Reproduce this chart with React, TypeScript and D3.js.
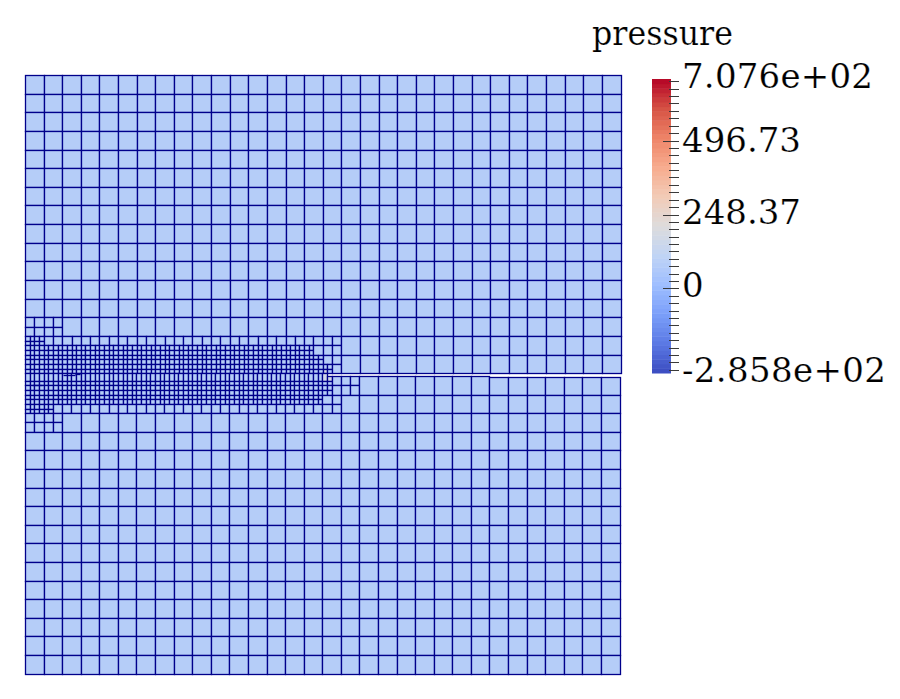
import React from 'react';
import * as d3 from 'd3';

// colour bar
const colorStops = ['#3b4cc0', '#5a78e4', '#7b9ff9', '#9ebeff', '#c0d4f5', '#dddcdc', '#f2cbb7', '#f7ac8e', '#ee8468', '#d65244', '#b40426'];
const pressureMin = -285.8;
const pressureMax = 707.6;
const majorTicks = [0, 248.37, 496.73];
const tickLabels = ['7.076e+02', '496.73', '248.37', '0', '-2.858e+02'];
const labelValues = [707.6, 496.73, 248.37, 0, -285.8];

// mesh, all in coarse cell units: [level, x0, x1, y0, y1]
const upperPatches = [
  [1, 0, 2, 13, 14],
  [1, 0, 17, 14, 16],
  [2, 0, 1, 14, 14.5],
  [2, 0, 15.5, 14.5, 15],
  [2, 0, 16, 15, 15.5],
  [2, 0, 16.5, 15.5, 16],
];
const lowerPatches = [
  [1, 0, 18, 16, 17],
  [1, 0, 17, 17, 18],
  [1, 0, 2, 18, 19],
  [2, 0, 16.5, 16, 17],
  [2, 0, 16, 17, 17.5],
  [2, 0, 1.5, 17.5, 18],
];
const basePressure = 78;
// cells around the crack tip that differ from the rest: [x, y, pressure]
const tipPressures = [
  [16, 15.75, 190],
  [16.25, 16, 175],
  [16, 16, 165],
  [16.25, 15.75, 40],
];
const crackTip = 16.25;
const lipEnd = 25;
// small jogs on the closed interface: [x0, x1, y]
const interfaceKinks = [
  [2.03, 2.67, 15.94],
  [2.67, 2.95, 15.87],
  [0.4, 0.9, 16.46],
];

function buildCells(patches: number[][], y0: number, y1: number) {
  const out: { x0: number; x1: number; y0: number; y1: number }[] = [];
  const levelAt = (x: number, y: number) => {
    let l = 0;
    patches.forEach(p => {
      if (x >= p[1] && x < p[2] && y >= p[3] && y < p[4]) l = Math.max(l, p[0]);
    });
    return l;
  };
  const split = (x: number, y: number, s: number, depth: number) => {
    if (levelAt(x + s / 2, y + s / 2) > depth || (depth === 0 && patches.some(p => p[1] < x + s && p[2] > x && p[3] < y + s && p[4] > y))) {
      const h = s / 2;
      split(x, y, h, depth + 1);
      split(x + h, y, h, depth + 1);
      split(x, y + h, h, depth + 1);
      split(x + h, y + h, h, depth + 1);
    } else {
      out.push({ x0: x, x1: x + s, y0: y, y1: y + s });
    }
  };
  for (const i of d3.range(0, 32)) for (const j of d3.range(y0, y1)) split(i, j, 1, 0);
  return out;
}

// snap to a pixel centre so the grid lines stay sharp
const snap = (v: number) => Math.floor(v) + 0.5;

export default function App() {
  const width = 900;
  const height = 699;
  const xUpper = d3.scaleLinear().domain([0, 32]).range([25.5, 621]);
  const xLower = d3.scaleLinear().domain([0, 32]).range([25.5, 620]);
  const yUpper = d3.scaleLinear().domain([0, 16]).range([75.5, 373.7]);
  const yLower = d3.scaleLinear().domain([16, 32]).range([376.5, 674]);
  const color = d3.scaleLinear<string>()
    .domain(d3.range(colorStops.length).map(i => pressureMin + (i / (colorStops.length - 1)) * (pressureMax - pressureMin)))
    .range(colorStops)
    .interpolate(d3.interpolateRgb);
  const barY = d3.scaleLinear().domain([pressureMin, pressureMax]).range([373, 79]);
  const barBands = d3.range(0, 64);

  const pressureOf = (c: { x0: number; y0: number }) => {
    const hit = tipPressures.find(t => t[0] === c.x0 && t[1] === c.y0);
    return hit ? hit[2] : basePressure;
  };

  const upperCells = buildCells(upperPatches, 0, 16);
  const lowerCells = buildCells(lowerPatches, 16, 32);
  const stroke = '#00008b';
  const minorTicks = d3.range(-275, 725, 25).filter(t => t !== 0 && t !== 250 && t !== 500);

  // top of a lower cell: closed up to the upper block left of the tip, the lip runs on to lipEnd
  const lowerTop = (c: { x0: number; x1: number; y0: number }) => {
    if (c.y0 !== 16) return snap(yLower(c.y0));
    if (c.x1 <= crackTip) return snap(yUpper(16));
    if (c.x1 <= lipEnd) return snap(yLower(16));
    return snap(yLower(16)) + 1;
  };

  return (
    <svg width={width} height={height} style={{ position: 'absolute', left: 0, top: 0, background: '#fff' }}>
      <g stroke={stroke} strokeWidth={1.3}>
        {upperCells.map((c, i) => (
          <rect key={i} x={snap(xUpper(c.x0))} y={snap(yUpper(c.y0))} width={snap(xUpper(c.x1)) - snap(xUpper(c.x0))} height={snap(yUpper(c.y1)) - snap(yUpper(c.y0))} fill={color(pressureOf(c))} />
        ))}
        {lowerCells.map((c, i) => (
          <rect key={i} x={snap(xLower(c.x0))} y={lowerTop(c)} width={snap(xLower(c.x1)) - snap(xLower(c.x0))} height={snap(yLower(c.y1)) - lowerTop(c)} fill={color(pressureOf(c))} />
        ))}
        {interfaceKinks.map((k, i) => (
          <line key={i} x1={snap(xLower(k[0]))} x2={snap(xLower(k[1]))} y1={snap(yLower(k[2]))} y2={snap(yLower(k[2]))} />
        ))}
      </g>

      <g>
        {barBands.map(i => {
          const a = pressureMin + (i / barBands.length) * (pressureMax - pressureMin);
          const b = pressureMin + ((i + 1) / barBands.length) * (pressureMax - pressureMin);
          return <rect key={i} x={652} width={19} y={barY(b)} height={barY(a) - barY(b) + 0.5} fill={color((a + b) / 2)} />;
        })}
      </g>
      <g stroke="#3a3a3a" strokeWidth={1}>
        {minorTicks.map(t => <line key={t} x1={669} x2={679} y1={Math.round(barY(t)) + 0.5} y2={Math.round(barY(t)) + 0.5} />)}
        {majorTicks.map(t => <line key={t} x1={663} x2={679} y1={Math.round(barY(t)) + 0.5} y2={Math.round(barY(t)) + 0.5} />)}
      </g>
      <g fontFamily="'DejaVu Serif'" fontSize={34} fill="#000" stroke="#fff" strokeWidth={0.2}>
        <text x={592} y={45} fontSize={33} textLength={141} lengthAdjust="spacingAndGlyphs">pressure</text>
        {tickLabels.map((t, i) => (
          <text key={t} x={682} y={[88, 152, 224, 297, 382][i]} data-value={labelValues[i]}
            textLength={i === 0 ? 191 : i === 4 ? 204 : undefined}>{t}</text>
        ))}
      </g>
    </svg>
  );
}
